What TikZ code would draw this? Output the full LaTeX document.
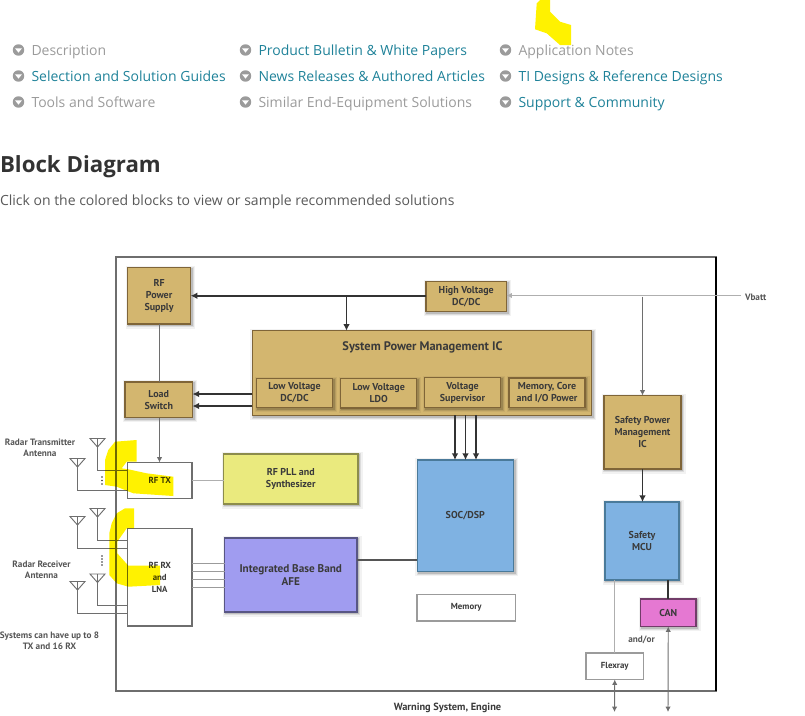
\documentclass[tikz,border=0pt]{standalone}
\usepackage{fontspec}
\setmainfont{Open Sans}
\newfontfamily\diagfont{PT Sans}
\usetikzlibrary{arrows.meta,positioning}
\definecolor{tan}{HTML}{D3B66F}
\definecolor{tanedge}{HTML}{7F6538}
\definecolor{linkteal}{HTML}{1F8299}
\definecolor{mutedgrey}{HTML}{9B9B9B}
\definecolor{inktext}{HTML}{3A3A3A}
\definecolor{greytext}{HTML}{555555}
\definecolor{wire}{HTML}{6E6E6E}
\definecolor{darkwire}{HTML}{333333}
\definecolor{socblue}{HTML}{7FB2E2}
\definecolor{socedge}{HTML}{4A7A9A}
\definecolor{pllyellow}{HTML}{EAEA7E}
\definecolor{afeviolet}{HTML}{A09CF0}
\definecolor{canpink}{HTML}{E578D2}
\tikzset{
  x=0.75pt, y=-0.75pt,
  every node/.style={inner sep=0pt, outer sep=0pt},
  listitem/.style={anchor=base west, font=\fontsize{10.5pt}{13pt}\selectfont},
  muted/.style={listitem, text=mutedgrey},
  linked/.style={listitem, text=linkteal},
  bullet/.style={circle, fill=mutedgrey, minimum size=8.6pt},
  softshadow/.style={
    preaction={draw=black, draw opacity=.05, line width=5pt, fill opacity=0, transform canvas={xshift=1pt,yshift=-1pt}},
    preaction={draw=black, draw opacity=.09, line width=3pt, fill opacity=0, transform canvas={xshift=1pt,yshift=-1pt}},
    preaction={draw=black, draw opacity=.14, line width=1.4pt, fill opacity=0, transform canvas={xshift=1pt,yshift=-1pt}}},
  block/.style={softshadow, draw=tanedge, line width=1pt, fill=tan, align=center, text=inktext,
    font=\diagfont\bfseries\fontsize{7.5pt}{9pt}\selectfont},
  plainbox/.style={draw=wire, line width=.9pt, fill=white, align=center, text=inktext,
    font=\diagfont\bfseries\fontsize{6.6pt}{9pt}\selectfont},
  label/.style={align=center, text=greytext, font=\diagfont\bfseries\fontsize{6.9pt}{8.6pt}\selectfont},
  thinwire/.style={draw=wire, line width=.7pt},
  palewire/.style={draw=mutedgrey!80, line width=.9pt},
  heavywire/.style={draw=darkwire, line width=1.25pt},
  midwire/.style={draw=greytext, line width=1.2pt},
  tipdark/.style={-{Latex[length=5pt,width=5pt]}},
  tipthin/.style={-{Latex[length=4pt,width=4pt]}},
  tipboth/.style={{Latex[length=4pt,width=4pt]}-{Latex[length=4pt,width=4pt]}},
  aerial/.style={draw=wire, line width=.7pt},
  marker/.style={fill=yellow, draw=none},
}
% A box given by its pixel corners: name, style, left, top, right, bottom, text
\newcommand{\pxbox}[7]{%
  \node[#2, minimum width=(#5-#3)*0.75pt, minimum height=(#6-#4)*0.75pt]
    (#1) at ({(#3+#5)/2},{(#4+#6)/2}) {#7};}
% A receive or transmit aerial: triangle with its apex at the named coordinate
\newcommand{\aerialat}[3]{%
  \coordinate (#1) at (#2,#3);
  \draw[aerial] (#2-7.5,#3-8.5) -- (#2+7.5,#3-8.5) -- (#1) -- cycle (#2-7.5,#3-8.5) -- (#1) -- (#2,#3-8.5);}
\begin{document}
\begin{tikzpicture}
\useasboundingbox (0,0) rectangle (805,715);

% Page links
\foreach \n/\bx/\by in {a/18.5/50,b/18.5/76,c/18.5/102,d/245.5/50,e/245.5/76,f/245.5/102,g/505.5/50,h/505.5/76,i/505.5/102}{
  \node[bullet] (bul\n) at (\bx,\by) {};
  \fill[white] (\bx-3.4,\by-1.6) -- (\bx+3.4,\by-1.6) -- (\bx,\by+2.6) -- cycle;
}
\node[muted]  (l1) at (31.5,55)  {Description};
\node[linked] (l2) at (31.5,81)  {Selection and Solution Guides};
\node[muted]  (l3) at (31.5,107) {Tools and Software};
\node[linked] (l4) at (258.5,55)  {Product Bulletin \& White Papers};
\node[linked] (l5) at (258.5,81)  {News Releases \& Authored Articles};
\node[muted]  (l6) at (258.5,107) {Similar End-Equipment Solutions};
\node[muted]  (l7) at (518.5,55)  {Application Notes};
\node[linked] (l8) at (518.5,81)  {TI Designs \& Reference Designs};
\node[linked] (l9) at (518.5,107) {Support \& Community};

% Section heading
\node[anchor=base west, text=black!80, font=\bfseries\fontsize{16.7pt}{20pt}\selectfont] (head) at (0,172.5) {Block Diagram};
\node[anchor=base west, text=black!65, font=\fontsize{10.5pt}{13pt}\selectfont] (sub) at (0,205) {Click on the colored blocks to view or sample recommended solutions};

% Outer frame
\node[draw=wire, line width=1.1pt, minimum width=450pt, minimum height=325.5pt] (frame) at (416,474) {};
\draw[black, line width=.8pt] (frame.north east) -- (frame.south east);

% Power blocks
\pxbox{rfps}{block}{127.5}{267.5}{190.7}{324}{RF\\Power\\Supply}
\pxbox{load}{block}{125}{382}{192.5}{417.5}{Load\\Switch}
\pxbox{hv}{block}{426}{281.5}{506.5}{311.5}{High Voltage\\DC/DC}
\pxbox{pmic}{block}{252.3}{330.7}{591.7}{415.3}{}
\node[anchor=base, text=inktext, font=\diagfont\bfseries\fontsize{9.3pt}{10pt}\selectfont] (pmictitle) at (422.5,350.5) {System Power Management IC};
\pxbox{lvdc}{block}{256.5}{378.5}{332.5}{407.5}{Low Voltage\\DC/DC}
\pxbox{ldo}{block}{340.7}{378.5}{416.7}{408}{Low Voltage\\LDO}
\pxbox{sup}{block}{424.5}{377.5}{500.5}{407.5}{Voltage\\Supervisor}
\pxbox{mem}{block}{509}{378}{585}{407.5}{Memory, Core\\and I/O Power}
\pxbox{spmic}{block}{604}{395.5}{681}{469}{Safety Power\\Management\\IC}

% Processing and radio blocks
\pxbox{soc}{block, draw=socedge, fill=socblue}{417.3}{460}{513.3}{571.3}{SOC/DSP}
\pxbox{mcu}{block, draw=socedge, fill=socblue}{605}{502}{679}{580}{Safety\\MCU}
\pxbox{can}{block, draw=canpink!50!black, fill=canpink}{640.5}{599}{696}{626.5}{CAN}
\pxbox{pll}{block, draw=pllyellow!60!black, fill=pllyellow, font=\diagfont\bfseries\fontsize{7.5pt}{9.5pt}\selectfont}{223.5}{454}{358}{504}{RF PLL and\\Synthesizer}
\pxbox{afe}{block, draw=afeviolet!55!black, fill=afeviolet, font=\diagfont\bfseries\fontsize{8.4pt}{9.5pt}\selectfont}{224.5}{538}{357}{612}{Integrated Base Band\\AFE}
\pxbox{memory}{plainbox, draw=mutedgrey}{417}{594.5}{515.5}{621}{Memory}
\pxbox{flex}{plainbox, draw=mutedgrey}{586}{653}{643.5}{679.5}{Flexray}
\pxbox{rftx}{plainbox}{127.5}{462.5}{192}{498.5}{RF TX}
\pxbox{rfrx}{plainbox}{127.5}{528.5}{192}{626}{RF RX\\and\\LNA}

% Supply wiring
\coordinate (vbatt) at (741,295.5);
\coordinate (vtap) at (642.5,296.5);
\coordinate (hvtap) at (346.5,295.5);
\draw[palewire, tipthin] (vbatt) -- (vbatt -| hv.east);
\draw[thinwire, tipthin] (vtap) -- (spmic.north -| vtap);
\draw[heavywire, tipdark] (hv.west |- rfps) -- (rfps.east);
\draw[heavywire, tipdark] (hvtap) -- (pmic.north -| hvtap);
\draw[thinwire] (rfps.south -| 159.5,0) -- (load.north -| 159.5,0);
\draw[thinwire, tipthin] (load.south -| 159.5,0) -- (rftx.north -| 159.5,0);
\draw[heavywire, tipdark] (pmic.west |- 0,394) -- (load.east |- 0,394);
\draw[heavywire, tipdark] (pmic.west |- 0,406) -- (load.east |- 0,406);
\foreach \xx in {455,465.5,476}
  \draw[heavywire, tipdark] (pmic.south -| \xx,0) -- (soc.north -| \xx,0);
\draw[heavywire, tipdark] (spmic.south) -- (mcu.north -| spmic.south);

% Signal wiring
\draw[palewire] (pll.west |- rftx) -- (rftx.east);
\draw[midwire] (afe.east |- 0,560) -- (soc.west |- 0,560);
\foreach \yy in {563,571,579,587}
  \draw[thinwire, draw=mutedgrey] (rfrx.east |- 0,\yy) -- (afe.west |- 0,\yy);
\draw[heavywire] (mcu.south -| can.north) -- (can.north);
\draw[palewire] (mcu.south -| flex.north) -- (flex.north);
\coordinate (flexbus) at (614.5,712);
\coordinate (canbus) at (668,712);
\draw[thinwire, tipboth] (flex.south) -- (flexbus);
\draw[thinwire, tipboth] (can.south) -- (canbus);

% Aerials
\aerialat{ta}{97.5}{447}
\aerialat{tb}{77.5}{467}
\aerialat{ra}{97.5}{517}
\aerialat{rb}{77.5}{525}
\aerialat{rc}{97.5}{582.5}
\aerialat{rd}{77.5}{590}
\draw[thinwire] (ta) |- (rftx.west |- 0,470);
\draw[thinwire] (tb) |- (rftx.west |- 0,490);
\draw[thinwire] (ra) |- (rfrx.west |- 0,540);
\draw[thinwire] (rb) |- (rfrx.west |- 0,548);
\draw[thinwire] (rc) |- (rfrx.west |- 0,605);
\draw[thinwire] (rd) |- (rfrx.west |- 0,613);
\fill[darkwire] \foreach \yy in {477,480.5,484} {(102,\yy) circle (.9)};
\fill[darkwire] \foreach \yy in {556,559,562,565} {(102,\yy) circle (.9)};

% Free-standing labels
\node[label] (txant) at (40,448) {Radar Transmitter\\Antenna};
\node[label] (rxant) at (41.5,570) {Radar Receiver\\Antenna};
\node[label] (limits) at (49.5,641) {Systems can have up to 8\\TX and 16 RX};
\node[label, anchor=west] (vb) at (745,297.5) {Vbatt};
\node[label] (andor) at (641.5,640) {and/or};
\node[label, text=inktext, font=\diagfont\bfseries\fontsize{7.8pt}{9pt}\selectfont] (warn) at (447.5,708) {Warning System, Engine};

% Highlighter strokes
\begin{scope}[blend mode=multiply]
  \fill[marker] (536.7,3.3) -- (540,0) -- (550,0) -- (550,11.7) -- (560,21.7) -- (571,25) -- (571,45) -- (560,45) -- (546.7,33.3) -- (535,29.3) -- cycle;
  \fill[marker] (115,441.7) -- (136.7,440) -- (136.7,461.7) -- (126.7,461.7) -- (121.7,468.3) -- (128.3,469.3) -- (146.7,473.3) -- (173.3,476.7) -- (173.3,496) -- (133.3,493.3) -- (116.7,486.7) -- (105,485) -- (105,460) -- (108.3,450) -- cycle;
  \fill[marker] (116.7,513.3) -- (125,508.3) -- (134,508.3) -- (134,528.3) -- (126.7,528.3) -- (117.3,541.7) -- (117.3,553.3) -- (128.3,565.7) -- (160,565.7) -- (160,585) -- (128.3,586.7) -- (116.7,583.3) -- (109.3,575) -- (109.3,533.3) -- (111.7,523.3) -- cycle;
\end{scope}
\end{tikzpicture}
\end{document}
